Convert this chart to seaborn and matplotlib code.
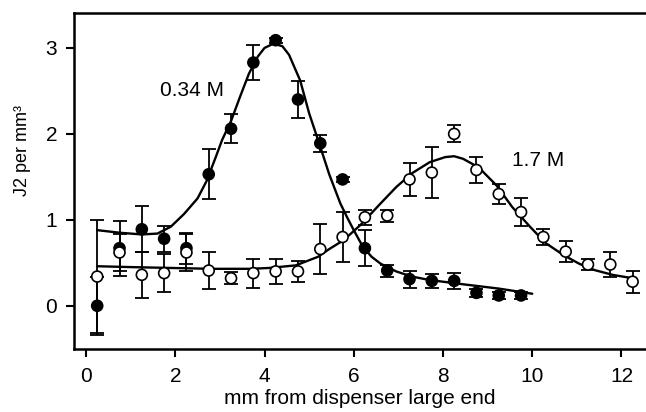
"""J2 density along the dispenser for two concentrations."""

import matplotlib

matplotlib.use("Agg")
import matplotlib.pyplot as plt
import numpy as np
import pandas as pd
import seaborn as sns

# measured points, 0.34 M (filled)
x_low = [0.25, 0.75, 1.25, 1.75, 2.25, 2.75, 3.25, 3.75, 4.25, 4.75,
         5.25, 5.75, 6.25, 6.75, 7.25, 7.75, 8.25, 8.75, 9.25, 9.75]
y_low = [0.00, 0.67, 0.89, 0.78, 0.67, 1.53, 2.06, 2.83, 3.09, 2.40,
         1.89, 1.47, 0.67, 0.41, 0.31, 0.29, 0.29, 0.15, 0.12, 0.12]
err_low = [0.34, 0.32, 0.27, 0.15, 0.18, 0.29, 0.17, 0.20, 0.03, 0.22,
           0.10, 0.03, 0.21, 0.07, 0.10, 0.08, 0.09, 0.05, 0.04, 0.04]

# measured points, 1.7 M (open)
x_high = [0.25, 0.75, 1.25, 1.75, 2.25, 2.75, 3.25, 3.75, 4.25, 4.75,
          5.25, 5.75, 6.25, 6.75, 7.25, 7.75, 8.25, 8.75, 9.25, 9.75,
          10.25, 10.75, 11.25, 11.75, 12.25]
y_high = [0.34, 0.62, 0.36, 0.38, 0.62, 0.41, 0.32, 0.38, 0.40, 0.40,
          0.66, 0.80, 1.03, 1.05, 1.47, 1.55, 2.00, 1.58, 1.30, 1.09,
          0.80, 0.63, 0.48, 0.48, 0.28]
err_high = [0.66, 0.22, 0.27, 0.22, 0.21, 0.21, 0.07, 0.17, 0.15, 0.12,
            0.29, 0.29, 0.09, 0.07, 0.19, 0.30, 0.10, 0.15, 0.12, 0.16,
            0.09, 0.12, 0.06, 0.15, 0.13]

# fitted curves
fit_x_low = [0.25, 0.75, 1.25, 1.6, 1.9, 2.2, 2.5, 2.7, 2.9, 3.05, 3.25,
             3.45, 3.65, 3.85, 4.0, 4.2, 4.4, 4.55, 4.8, 5.0, 5.25, 5.45,
             5.7, 5.85, 6.0, 6.2, 6.4, 6.6, 6.95, 7.3, 7.7, 8.45, 9.25, 10.0]
fit_y_low = [0.88, 0.85, 0.83, 0.84, 0.92, 1.07, 1.25, 1.45, 1.72, 1.93, 2.15,
             2.43, 2.70, 2.90, 3.00, 3.05, 3.02, 2.92, 2.62, 2.24, 1.85, 1.53,
             1.19, 1.03, 0.88, 0.69, 0.57, 0.49, 0.40, 0.34, 0.30, 0.25, 0.20, 0.14]

fit_x_high = [0.25, 1.0, 1.9, 2.8, 3.7, 4.1, 4.7, 5.2, 5.45, 5.7, 5.85, 6.15,
              6.6, 6.95, 7.3, 7.7, 8.05, 8.25, 8.45, 8.8, 9.2, 9.55, 9.95,
              10.3, 10.7, 11.05, 11.4, 11.8, 12.25]
fit_y_high = [0.46, 0.45, 0.44, 0.43, 0.43, 0.44, 0.47, 0.57, 0.66, 0.74, 0.80, 0.94,
              1.19, 1.38, 1.54, 1.67, 1.73, 1.74, 1.71, 1.61, 1.40, 1.15, 0.92,
              0.73, 0.59, 0.49, 0.415, 0.36, 0.32]

x_ticks = [0, 2, 4, 6, 8, 10, 12]
y_ticks = [0, 1, 2, 3]

sns.set_style("ticks")
plt.rcParams["font.family"] = ["Liberation Sans", "DejaVu Sans"]
plt.rcParams["text.color"] = "black"
plt.rcParams["axes.labelcolor"] = "black"

pts = pd.concat([
    pd.DataFrame({"x": x_low, "y": y_low, "err": err_low, "conc": "0.34 M"}),
    pd.DataFrame({"x": x_high, "y": y_high, "err": err_high, "conc": "1.7 M"}),
])
fits = pd.concat([
    pd.DataFrame({"x": fit_x_low, "y": fit_y_low, "conc": "0.34 M"}),
    pd.DataFrame({"x": fit_x_high, "y": fit_y_high, "conc": "1.7 M"}),
])

fig = plt.figure(figsize=(6.46, 4.12), dpi=100)
ax = fig.add_axes([74 / 646, 1 - 349 / 412, 572 / 646, 336.3 / 412])

for conc, grp in pts.groupby("conc"):
    ax.errorbar(grp["x"], grp["y"], yerr=grp["err"], fmt="none",
                ecolor="black", elinewidth=1.3, capsize=5, capthick=1.3, zorder=1)

sns.lineplot(data=fits, x="x", y="y", units="conc", estimator=None, sort=False,
             color="black", linewidth=1.7, ax=ax, zorder=2)

sns.scatterplot(data=pts, x="x", y="y", hue="conc",
                palette={"0.34 M": "black", "1.7 M": "white"},
                edgecolor="black", linewidth=1.2, s=62, legend=False,
                ax=ax, zorder=3)

ax.text(2.37, 2.51, "0.34 M", fontsize=15, ha="center", va="center")
ax.text(10.13, 1.69, "1.7 M", fontsize=15, ha="center", va="center")

ax.set_xlim(-0.27, 12.55)
ax.set_ylim(-0.503, 3.41)
ax.set_xticks(x_ticks)
ax.set_yticks(y_ticks)
ax.tick_params(axis="both", labelsize=15, width=1.5, color="black", labelcolor="black")
ax.tick_params(axis="x", length=6, pad=7)
ax.tick_params(axis="y", length=6, pad=6)
ax.set_xlabel("mm from dispenser large end", fontsize=15, labelpad=2)
ax.set_ylabel("J2 per mm³", fontsize=13)
ax.yaxis.set_label_coords(-0.075, 0.59)

ax.spines["right"].set_visible(False)
for side in ["left", "bottom", "top"]:
    ax.spines[side].set_linewidth(1.8)
    ax.spines[side].set_color("black")

fig.savefig("out.png", dpi=100)
